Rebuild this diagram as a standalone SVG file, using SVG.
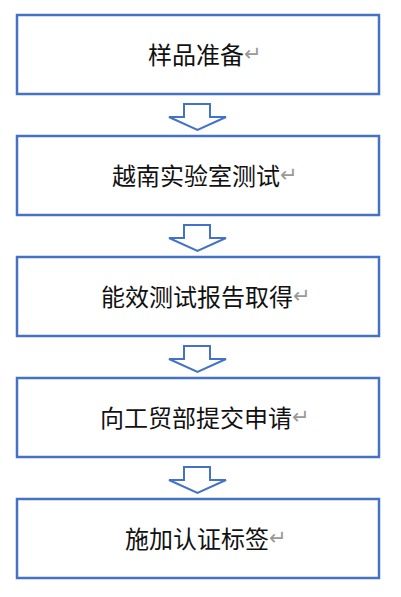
<svg xmlns="http://www.w3.org/2000/svg" width="401" height="597" viewBox="0 0 401 597">
<style>
.box{fill:#fff;stroke:#4472C4;stroke-width:2.5}
.arr{fill:#fff;stroke:#4472C4;stroke-width:2;stroke-linejoin:miter}
.t{font-family:"Noto Sans CJK SC","Noto Sans",sans-serif;font-size:24px;fill:#111}
.pm{font-family:"DejaVu Sans",sans-serif;font-size:21px;fill:#999}
</style>
<rect width="401" height="597" fill="#fff"/>
<g id="connectors">
<path class="arr" d="M184,104 H210 V117 H226 L197.5,130 L169,117 H184 Z"/>
<path class="arr" d="M184,225 H210 V238 H226 L197.5,251 L169,238 H184 Z"/>
<path class="arr" d="M184,346 H210 V359 H226 L197.5,372 L169,359 H184 Z"/>
<path class="arr" d="M184,467 H210 V480 H226 L197.5,493 L169,480 H184 Z"/>
</g>
<g id="n1"><rect class="box" x="17" y="15" width="362" height="79"/><text class="t" x="148" y="64">样品准备<tspan class="pm" dy="-3">↵</tspan></text></g>
<g id="n2"><rect class="box" x="17" y="136" width="362" height="79"/><text class="t" x="112" y="185">越南实验室测试<tspan class="pm" dy="-3">↵</tspan></text></g>
<g id="n3"><rect class="box" x="17" y="257" width="362" height="79"/><text class="t" x="101" y="306">能效测试报告取得<tspan class="pm" dy="-3">↵</tspan></text></g>
<g id="n4"><rect class="box" x="17" y="378" width="362" height="79"/><text class="t" x="100" y="427">向工贸部提交申请<tspan class="pm" dy="-3">↵</tspan></text></g>
<g id="n5"><rect class="box" x="17" y="499" width="362" height="79"/><text class="t" x="125" y="548">施加认证标签<tspan class="pm" dy="-3">↵</tspan></text></g>
</svg>
